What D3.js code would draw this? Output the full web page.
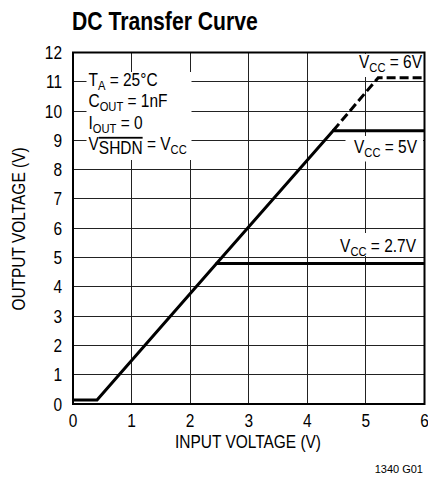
<!DOCTYPE html>
<html><head><meta charset="utf-8">
<script src="https://cdn.jsdelivr.net/npm/d3@7"></script>
<style>
html,body{margin:0;padding:0;background:#fff;}
svg{display:block;}
text{font-family:"Liberation Sans",Arial,sans-serif;fill:#000;}
</style></head>
<body><div id="chart"></div>
<script>
const title = "DC Transfer Curve";
const xTicks = [0,1,2,3,4,5,6];
const yTicks = [0,1,2,3,4,5,6,7,8,9,10,11,12];
const xLabel = "INPUT VOLTAGE (V)";
const yLabel = "OUTPUT VOLTAGE (V)";
const figId = "1340 G01";
// curves: [input V, output V]
const curveVcc27 = [[0,0.14],[0.41,0.14],[2.45,4.8],[6,4.8]];
const curveVcc5 = [[2.45,4.8],[4.44,9.33],[6,9.33]];
const curveVcc6 = [[4.44,9.33],[5.21,11.14],[6,11.14]];
const seriesLabels = [
  {main:"V", sub:"CC", rest:" = 6V"},
  {main:"V", sub:"CC", rest:" = 5V"},
  {main:"V", sub:"CC", rest:" = 2.7V"}
];

const W=428,H=477;
const SX=0.86, FS=18, SUB=13;
const svg=d3.select("#chart").append("svg").attr("width",W).attr("height",H);
const x=d3.scaleLinear().domain([0,6]).range([73,424.5]);
const y=d3.scaleLinear().domain([0,12]).range([404,52.5]);

function T(parent,px,py,anchor,size,sx,extra){
  return parent.append("text")
    .attr("transform",`translate(${px},${py})${extra||""} scale(${sx},1)`)
    .attr("text-anchor",anchor).attr("font-size",size);
}

// title
T(svg,72,29.5,"start",25.5,0.83).attr("font-weight","bold").text(title);

// grid
const g=svg.append("g");
g.selectAll("line.v").data(xTicks.slice(1,-1)).join("line")
 .attr("x1",d=>x(d)).attr("x2",d=>x(d)).attr("y1",y(12)).attr("y2",y(0))
 .attr("stroke","#222").attr("stroke-width",1).attr("shape-rendering","crispEdges");
g.selectAll("line.h").data(yTicks.slice(1,-1)).join("line")
 .attr("y1",d=>y(d)).attr("y2",d=>y(d)).attr("x1",x(0)).attr("x2",x(6))
 .attr("stroke","#222").attr("stroke-width",1).attr("shape-rendering","crispEdges");

// tick labels
yTicks.forEach(d=>{ T(svg,62,y(d)+6.5,"end",FS,SX).text(d); });
xTicks.forEach(d=>{ T(svg,x(d),427,"middle",FS,SX).text(d); });

// axis labels
T(svg,248,448,"middle",FS,SX).text(xLabel);
T(svg,25,229,"middle",FS,SX," rotate(-90)").text(yLabel);
T(svg,423,473,"end",11,1).text(figId);

// white label boxes
const boxes=[[86.5,72,105,88],[350,54,73,23],[345.5,136,77.5,25.5],[334.5,233,88.5,23]];
svg.selectAll("rect.box").data(boxes).join("rect")
 .attr("x",d=>d[0]).attr("y",d=>d[1]).attr("width",d=>d[2]).attr("height",d=>d[3]).attr("fill","#fff");

// conditions text
function addLine(yb, parts){
  const t=T(svg,88.5,yb,"start",FS,SX);
  parts.forEach(p=>{
    const s=t.append("tspan").text(p.t);
    if(p.sub){ s.attr("font-size",SUB).attr("dy",4); }
    if(p.up){ s.attr("dy",-4); }
  });
}
addLine(85.5,[{t:"T"},{t:"A",sub:1},{t:" = 25°C",up:1}]);
addLine(107,[{t:"C"},{t:"OUT",sub:1},{t:" = 1nF",up:1}]);
addLine(128.5,[{t:"I"},{t:"OUT",sub:1},{t:" = 0",up:1}]);
(function(){
  const t=T(svg,88.5,150,"start",FS,SX);
  t.append("tspan").text("V");
  t.append("tspan").attr("dy",4).style("text-decoration","overline").text("SHDN");
  t.append("tspan").attr("dy",-4).text(" = V");
  t.append("tspan").attr("font-size",SUB).attr("dy",4).text("CC");
})();

// series labels
const labPos=[[422,68],[417,153],[416,251.5]];
seriesLabels.forEach((l,i)=>{
  const t=T(svg,labPos[i][0],labPos[i][1],"end",FS,SX);
  t.append("tspan").text(l.main);
  t.append("tspan").attr("font-size",SUB).attr("dy",4).text(l.sub);
  t.append("tspan").attr("dy",-4).text(l.rest);
});

// curves
const line=d3.line().x(d=>x(d[0])).y(d=>y(d[1]));
svg.append("path").datum(curveVcc27).attr("d",line).attr("fill","none").attr("stroke","#000").attr("stroke-width",3);
svg.append("path").datum(curveVcc5).attr("d",line).attr("fill","none").attr("stroke","#000").attr("stroke-width",3);
svg.append("path").datum(curveVcc6).attr("d",line).attr("fill","none").attr("stroke","#000").attr("stroke-width",3).attr("stroke-dasharray","9,4");

// border
svg.append("rect").attr("x",x(0)).attr("y",y(12)).attr("width",x(6)-x(0)).attr("height",y(0)-y(12))
 .attr("fill","none").attr("stroke","#000").attr("stroke-width",2);
</script></body></html>
